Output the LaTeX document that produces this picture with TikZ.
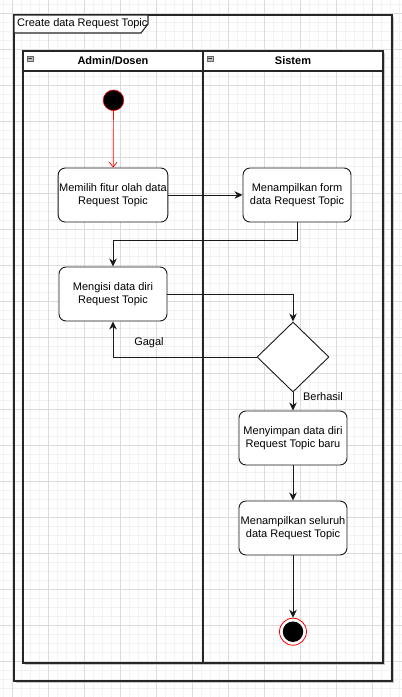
\documentclass[tikz,border=0pt]{standalone}
\usepackage{fontspec}
\setmainfont{Liberation Sans}
\usetikzlibrary{arrows.meta,shapes.geometric,calc}
\begin{document}
\begin{tikzpicture}[x=1pt,y=-1pt,
  act/.style={draw=black!90, line width=0.9pt, rounded corners=7pt, fill=white,
    minimum width=108pt, minimum height=54pt, inner sep=1pt,
    align=center, font=\fontsize{11}{12.5}\selectfont},
  flow/.style={draw=black!90, line width=0.9pt, -{Stealth[length=8pt,width=7.5pt,inset=2.5pt]}},
  redflow/.style={draw=red, line width=0.7pt, -{Straight Barb[length=5pt,width=8pt]}},
  lbl/.style={font=\fontsize{11}{12.5}\selectfont, inner sep=0pt},
  hdr/.style={font=\bfseries\fontsize{11}{12.5}\selectfont, inner sep=0pt},
  minorgrid/.style={draw=black!5, line width=0.5pt},
  majorgrid/.style={draw=black!14, line width=0.6pt},
  frameline/.style={draw=black!85, line width=1.1pt},
  shadowline/.style={draw=black!22, line width=1.2pt}
]
\useasboundingbox (0,0) rectangle (402,697);
\fill[white] (0,0) rectangle (402,697);
% grid
\foreach \i in {-1,...,45} {
  \pgfmathsetmacro{\gx}{12.7+9*\i}
  \draw[minorgrid] (\gx,0) -- (\gx,697);
}
\foreach \i in {-1,...,78} {
  \pgfmathsetmacro{\gy}{13.7+9*\i}
  \draw[minorgrid] (0,\gy) -- (402,\gy);
}
\foreach \i in {0,...,11} {
  \pgfmathsetmacro{\gx}{12.7+36*\i}
  \draw[majorgrid] (\gx,0) -- (\gx,697);
}
\foreach \i in {0,...,19} {
  \pgfmathsetmacro{\gy}{13.7+36*\i}
  \draw[majorgrid] (0,\gy) -- (402,\gy);
}
% outer frame with shadow
\draw[shadowline] (393.5,17) -- (393.5,682.5) -- (16,682.5);
\draw[frameline] (14,15) rectangle (392,681);
% title tab
\draw[frameline, fill=white] (14,15) -- (148,15) -- (148,24) -- (141,33) -- (14,33) -- cycle;
\node[lbl, anchor=west] (title) at (17,24) {Create data Request Topic};
% swimlanes
\draw[shadowline] (384.5,53) -- (384.5,664.5) -- (25,664.5);
\draw[frameline, fill=white] (23,51) rectangle (383,71);
\draw[frameline] (23,51) rectangle (383,663);
\draw[frameline] (203,51) -- (203,663);
\node[hdr] (lane1) at (113,61) {Admin/Dosen};
\node[hdr] (lane2) at (293,61) {Sistem};
% collapse icons
\foreach \ix in {27,207} {
  \draw[black!60, fill=black!25, line width=0.4pt] (\ix,56) rectangle (\ix+6,61.5);
  \draw[black!80, line width=0.8pt] (\ix+1.3,58.75) -- (\ix+4.7,58.75);
}
% nodes
\node[circle, fill=black, draw=red, line width=0.6pt, minimum size=20.6pt, inner sep=0pt] (start) at (113.5,100.3) {};
\node[act] (b1) at (113,195) {Memilih fitur olah data\\Request Topic};
\node[act] (b2) at (297,195) {Menampilkan form\\data Request Topic};
\node[act] (b3) at (113,294) {Mengisi data diri\\Request Topic};
\node[diamond, draw=black!90, line width=0.9pt, fill=white, minimum width=72pt, minimum height=70pt, inner sep=0pt, aspect=1.03] (dec) at (293,357) {};
\node[act] (b4) at (293,438) {Menyimpan data diri\\Request Topic baru};
\node[act] (b5) at (293,528) {Menampilkan seluruh\\data Request Topic};
\node[circle, fill=white, draw=red, line width=0.8pt, minimum size=27pt, inner sep=0pt] (endo) at (293,631.7) {};
\node[circle, fill=black, minimum size=20.5pt, inner sep=0pt] (endi) at (293,631.7) {};
% connectors
\draw[redflow] (start) -- (b1);
\draw[flow] (b1) -- (b2);
\draw[flow] (b2.south) -- ++(0,18) -| (b3.north);
\draw[flow] (b3.east) -| (dec.north);
\draw[flow] (dec.west) -| (b3.south);
\draw[flow] (dec.south) -- (b4.north);
\draw[flow] (b4) -- (b5);
\draw[flow] (b5) -- (endo);
\node[lbl] (gagal) at (149,343) {Gagal};
\node[lbl] (berhasil) at (323,397) {Berhasil};
\end{tikzpicture}
\end{document}
